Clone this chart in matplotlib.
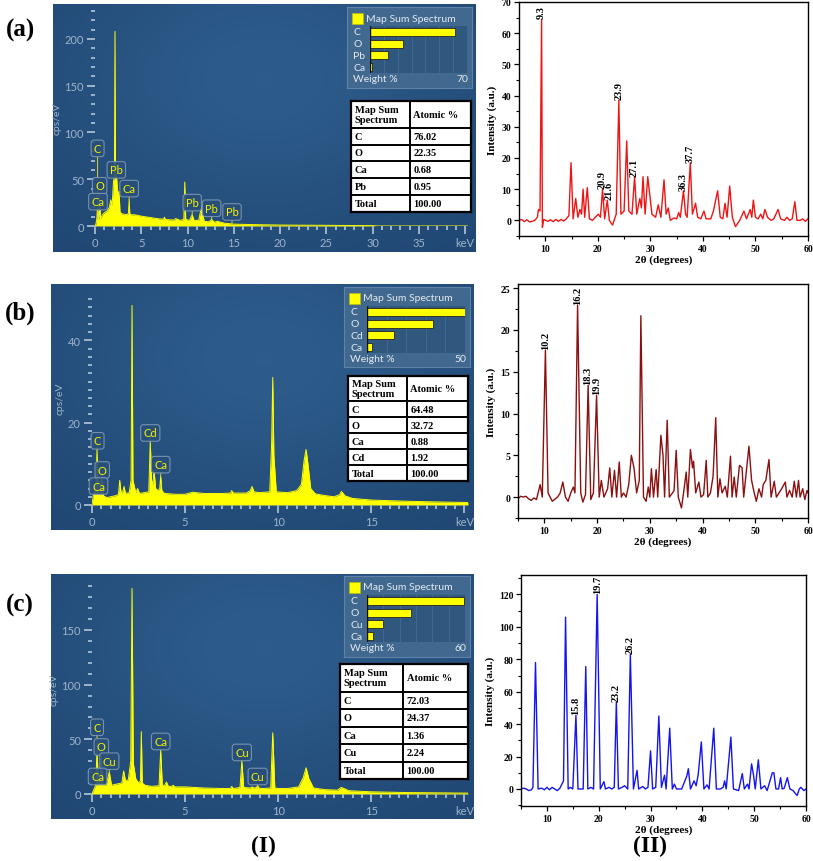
import numpy as np
import matplotlib
matplotlib.use("Agg")
import matplotlib.pyplot as plt
from matplotlib.patches import Rectangle
from matplotlib.colors import LinearSegmentedColormap

# ---- EDS spectra (keV, cps/eV) ----
eds_a = [(0, 0), (0.1, 2), (0.2, 8), (0.28, 22), (0.36, 6), (0.45, 10), (0.52, 25), (0.6, 8),
         (0.8, 12), (1.0, 14), (1.3, 16), (1.55, 20), (1.7, 28), (1.85, 22), (2.0, 48), (2.1, 52),
         (2.16, 208), (2.22, 55), (2.35, 50), (2.5, 30), (2.6, 37), (2.7, 15), (2.9, 13), (3.2, 12.5),
         (3.5, 12), (3.62, 14), (3.69, 28), (3.76, 13), (3.9, 12), (4.3, 12), (5.0, 10.5), (6.0, 9),
         (7.0, 7.5), (7.45, 7.5), (7.5, 9.5), (7.6, 7), (8.2, 6.5), (8.6, 6.5), (8.7, 8), (9.2, 6),
         (9.6, 7), (9.7, 47), (9.8, 7), (10.2, 6), (10.5, 12), (10.7, 6), (11.2, 6), (11.5, 20),
         (11.8, 5), (12.3, 4.5), (12.6, 7), (12.9, 4), (13.2, 5), (14.0, 3), (15.0, 2), (17.0, 1.5),
         (20.0, 1), (25.0, 0.7), (30.0, 0.4), (30.5, 0), (40.3, 0)]
eds_b = [(0, 0), (0.12, 4), (0.2, 3), (0.27, 13.5), (0.34, 3), (0.42, 2.5), (0.52, 7), (0.62, 2.2),
         (0.8, 1.8), (1.0, 2), (1.3, 2.3), (1.42, 2.6), (1.49, 6), (1.56, 3), (1.65, 3.2), (1.72, 4.5),
         (1.8, 2.8), (2.0, 3), (2.1, 6), (2.15, 48.5), (2.2, 6), (2.35, 3), (2.45, 4), (2.55, 2.8),
         (2.8, 3), (3.05, 3.2), (3.13, 15.5), (3.2, 6), (3.27, 5), (3.33, 8.5), (3.42, 4), (3.55, 3.5),
         (3.64, 4), (3.69, 7), (3.75, 3.5), (3.9, 2.8), (4.5, 2.6), (5.0, 2.6), (5.4, 3.1), (6.0, 2.8),
         (7.0, 2.8), (7.45, 2.9), (7.5, 3.5), (7.6, 2.9), (8.3, 2.9), (8.5, 3.5), (8.6, 4.5), (8.7, 3.2),
         (9.0, 3), (9.55, 3.2), (9.65, 15), (9.71, 31), (9.77, 12), (9.9, 3.2), (10.5, 3), (11.0, 3.5),
         (11.25, 5), (11.4, 11), (11.5, 13.5), (11.6, 10), (11.75, 4), (12.0, 2.7), (12.5, 2.3),
         (13.0, 2), (13.3, 2.5), (13.4, 3.3), (13.6, 2.2), (14.0, 1.6), (15.0, 1.2), (17.0, 0.9),
         (19.0, 0.7), (20.2, 0.6)]
eds_c = [(0, 0), (0.12, 5), (0.2, 8), (0.27, 41), (0.34, 10), (0.42, 12), (0.52, 32), (0.6, 9),
         (0.75, 8), (0.93, 20), (1.05, 8), (1.3, 9), (1.6, 10), (1.7, 21), (1.8, 12), (1.95, 13),
         (2.08, 30), (2.15, 188), (2.22, 28), (2.35, 14), (2.5, 10), (2.6, 12), (2.65, 57), (2.7, 10),
         (2.85, 8), (3.2, 7), (3.6, 7.5), (3.69, 40), (3.78, 7.5), (3.9, 8), (4.0, 11), (4.1, 7),
         (4.3, 7), (4.36, 8), (4.45, 6.5), (5.0, 6.5), (6.0, 5.5), (7.0, 5), (7.45, 5), (7.5, 7),
         (7.6, 5), (7.95, 6), (8.05, 30), (8.15, 6), (8.5, 5.5), (8.6, 6.5), (8.7, 5.5), (8.85, 6),
         (8.9, 8), (8.95, 5.5), (9.2, 5), (9.6, 5.5), (9.71, 56), (9.82, 5.5), (10.0, 5), (10.5, 5),
         (11.1, 6.5), (11.35, 15), (11.5, 24), (11.65, 14), (11.9, 5.5), (12.5, 4), (13.2, 3.5),
         (13.3, 5), (13.4, 6), (13.8, 3), (15.0, 2), (17.0, 1.3), (20.2, 0.8)]

# element markers: (label, keV of line, label y, pointer end y)
marks_a = [("C", 0.28, 83, 22), ("O", 0.5, 43, 25), ("Ca", 0.32, 26, 8), ("Pb", 2.3, 60, 50),
           ("Ca", 3.69, 40, 28), ("Pb", 10.5, 25, 12), ("Pb", 12.6, 19, 7), ("Pb", 14.8, 15, 3)]
marks_b = [("C", 0.3, 15.6, 13.5), ("O", 0.55, 8.5, 7), ("Ca", 0.35, 4.6, 3),
           ("Cd", 3.13, 17.5, 15.5), ("Ca", 3.69, 9.8, 7)]
marks_c = [("C", 0.27, 61, 41), ("O", 0.5, 43, 32), ("Cu", 0.93, 30, 20), ("Ca", 0.3, 16, 8),
           ("Ca", 3.69, 48, 40), ("Cu", 8.05, 38, 30), ("Cu", 8.9, 16, 8)]

# weight % bars and atomic % tables
elems_a = ["C", "O", "Pb", "Ca"]; wt_a = [61, 24, 13, 1.8]; wmax_a = 70
elems_b = ["C", "O", "Cd", "Ca"]; wt_b = [50, 33.8, 13.9, 2.3]; wmax_b = 50
elems_c = ["C", "O", "Cu", "Ca"]; wt_c = [59.6, 26.9, 9.8, 3.7]; wmax_c = 60
table_a = [("C", "76.02"), ("O", "22.35"), ("Ca", "0.68"), ("Pb", "0.95"), ("Total", "100.00")]
table_b = [("C", "64.48"), ("O", "32.72"), ("Ca", "0.88"), ("Cd", "1.92"), ("Total", "100.00")]
table_c = [("C", "72.03"), ("O", "24.37"), ("Ca", "1.36"), ("Cu", "2.24"), ("Total", "100.00")]

# ---- XRD patterns (2theta, intensity) ----
xrd_a = [(5, 0), (5.5, 0.3), (6, -0.4), (6.5, 0.2), (7, -0.5), (7.5, -0.3), (8, 0), (8.5, 1),
         (8.7, 3.5), (9.0, 3), (9.3, 64.5), (9.45, -2.2), (9.7, 0.3), (10.5, -0.3), (11, 0.2),
         (11.5, -0.4), (12, 0.3), (12.5, -0.3), (13, 0.3), (13.5, -0.2), (14, 0.5), (14.5, 1.5),
         (14.9, 18.5), (15.3, 0.5), (15.8, 7), (16.2, 1), (16.6, 3.5), (16.9, 2), (17.2, 10), (17.5, 1),
         (18.0, 10.5), (18.4, 0.5), (19.0, 0), (19.5, 1), (20.1, 2), (20.5, 1), (20.9, 10), (21.3, 0.5),
         (21.8, 6.5), (22.2, 0), (22.8, -1.5), (23.5, 2), (24.0, 38.5), (24.4, 2), (25.0, 3),
         (25.5, 25.5), (25.9, 3), (26.5, 2), (27.0, 14), (27.4, 2), (28.0, 7), (28.3, 4), (28.6, 14),
         (29.0, 2), (29.5, 14), (29.9, 8), (30.3, 2), (31.0, 1), (31.5, 5), (32.0, 1), (32.6, 13),
         (33.0, 2), (33.4, 4), (33.8, 0), (34.5, 0.8), (35.0, 0.5), (35.4, 2.5), (35.7, 1), (36.3, 9.5),
         (36.7, 2), (37.0, 1), (37.6, 18.5), (38.0, 2), (38.6, 5.5), (39.0, 1), (39.6, 0.5), (40.2, 3),
         (40.6, 0.5), (41.5, 0.5), (42.0, 3), (42.8, 9.5), (43.3, 1), (43.8, 0.5), (44.2, 5.5),
         (44.6, 1), (45.1, 11), (45.6, 1), (46.2, -2), (47.0, 0), (47.8, 3), (48.3, 0.5), (49.0, 3.5),
         (49.3, 1), (49.6, 6.5), (50.0, 1), (50.5, 0.5), (51.0, 2), (51.4, 0.5), (51.8, 3.5),
         (52.3, 1), (53.0, 0), (53.5, 0.5), (54.3, 3.5), (54.8, 0.5), (55.5, 0), (56, 1), (56.5, 0),
         (57.0, 0.5), (57.5, 6), (57.9, 0), (58.5, 0), (59, 0.5), (59.5, -0.3), (60, 0.5)]
xrd_b = [(5, -0.2), (5.5, 0.1), (6, 0), (6.5, 0.1), (7, -0.2), (7.5, -0.4), (8, -0.1), (8.5, -0.3),
         (9.2, 1.5), (9.6, 0), (10.2, 17.6), (10.7, 0.5), (11.5, -0.5), (12.5, 0), (13.0, 0.5),
         (13.5, 1.8), (14.0, 0), (14.5, -0.5), (15.0, 0.5), (15.5, 1.2), (15.8, 0.5), (16.3, 23),
         (16.9, 0.5), (17.3, -0.6), (17.8, 0.3), (18.3, 13.4), (18.8, -0.3), (19.3, 0.5), (19.9, 12.2),
         (20.4, 0), (20.8, 2), (21.3, 0), (22.0, 1), (22.4, 3.5), (22.8, 0), (23.3, 3.2), (23.7, 0),
         (24.2, 4.2), (24.6, 0), (25.0, 0.5), (25.5, 0), (26.0, 1.5), (26.5, 5), (27.0, 3.5),
         (27.5, 0.5), (28.0, 2), (28.3, 21.7), (28.8, 0), (29.3, -0.5), (29.7, 1.2), (30.0, 0),
         (30.3, 3.4), (30.7, 0), (31.2, 3.3), (31.5, 0), (32.1, 7.4), (32.5, 5), (32.8, 0), (33.3, 9.2),
         (33.7, 0), (34.3, 0.5), (34.6, 0.8), (35.0, 5.6), (35.4, 0), (36.0, -1.3), (36.4, 0.5),
         (36.9, 3), (37.2, 0), (37.7, 5.7), (38.1, 3.5), (38.3, 4.3), (38.7, 0.5), (39.3, 1.8),
         (39.7, 0), (40.2, 0.3), (40.7, 4.4), (41.0, 0), (41.5, 0.5), (42.0, 2.5), (42.5, 9.5),
         (42.9, 0), (43.3, 2.2), (43.7, 0.5), (44.3, 1.3), (44.7, 0), (45.3, 4.9), (45.6, 0),
         (46.0, 2.4), (46.4, 0), (47.0, 3.8), (47.5, 3.5), (47.8, 0), (48.8, 6.1), (49.3, 2),
         (49.8, 0.5), (50.2, -0.5), (50.7, 1), (51.2, 0), (51.5, 1.5), (52.0, 2), (52.6, 4.5),
         (53.0, 0), (53.6, 1.9), (54.0, 0), (55.0, 1), (55.7, 1.8), (56.0, 0), (56.5, 0.8), (57.0, 0),
         (57.4, 1.9), (57.8, 0), (58.2, 2), (58.5, 0), (59.0, 1), (59.4, -0.3), (59.8, 0.8), (60, 0.5)]
xrd_c = [(5, 0), (5.5, 0.5), (6, 0), (6.5, -1), (7, -0.5), (7.3, 1), (7.8, 78), (8.3, 0), (9, 0.5),
         (9.5, -0.5), (10, 1), (10.5, -0.5), (11, 1), (11.5, 0), (12, -1), (12.5, 0.5), (13.2, 5),
         (13.6, 106), (14.1, 0), (14.5, 1), (15.0, 0), (15.6, 45.5), (16.0, 0), (17.0, 0), (17.5, 75.5),
         (17.9, 0), (18.5, 1), (19.0, 0), (19.7, 120), (20.3, 0), (21.0, 4.5), (21.3, 0), (22.0, 1),
         (22.5, 0), (23.0, 1), (23.4, 53.5), (23.8, 0), (24.5, 1), (25.0, 2), (25.6, 0), (26.1, 83),
         (26.7, 0), (27.4, 11.5), (27.7, 0), (28.5, 1.5), (29.0, 0), (29.5, 1), (30.0, 23.5), (30.4, 0),
         (31.0, 1), (31.6, 45), (32.1, 1), (32.7, 8.5), (33.0, 0), (33.7, 37.5), (34.2, 0), (34.6, 3),
         (35.0, 0), (36.0, 0), (37.0, 8), (37.3, 12.5), (37.7, 0), (38.4, 5), (38.8, 2), (39.2, 9),
         (39.8, 29), (40.3, 0), (40.9, 2.5), (41.3, 0), (42.2, 37.5), (42.7, 0), (43.5, 0), (44.0, 1),
         (44.3, 5), (44.6, 0), (45.5, 32), (46.0, 0), (47.0, -1), (47.7, 9.5), (48.1, 0), (48.7, 3),
         (49.0, 0), (49.5, 15.5), (49.9, 8), (50.2, 0), (50.8, 18), (51.3, 0), (52.0, 2), (52.5, -1),
         (53.5, 10), (53.8, 10), (54.2, 0), (54.7, 0), (55.1, 7), (55.4, 0), (55.8, 0.5), (56.4, 7),
         (56.9, 0), (57.5, -1), (58.0, -3), (58.3, -4), (58.7, 0), (59.0, 1), (59.6, -1), (60, 0)]
# peak labels: (text, label position in 2theta)
peaks_a = [("9.3", 9.3), ("20.9", 20.75), ("21.6", 22.1), ("23.9", 24.0), ("27.1", 27.0),
           ("36.3", 36.3), ("37.7", 37.6)]
peaks_b = [("10.2", 10.2), ("16.2", 16.3), ("18.3", 18.3), ("19.9", 19.9)]
peaks_c = [("15.8", 15.6), ("19.7", 19.7), ("23.2", 23.4), ("26.2", 26.1)]

W, H = 813, 862
fig = plt.figure(figsize=(W / 100, H / 100), dpi=100)
SERIF = "Liberation Serif"
SANS = "Lato"
TICKC = "#9fb4cb"
TXTC = "#e4eaf1"


def box(l, t, r, b):
    return [l / W, 1 - b / H, (r - l) / W, (b - t) / H]


def ftext(x, y, s, **kw):
    fig.text(x / W, 1 - y / H, s, **kw)


# background gradient for the EDS screenshots
cmap_bg = LinearSegmentedColormap.from_list("bg", ["#214875", "#2d5c8b"])
gx, gy = np.meshgrid(np.linspace(0, 1, 200), np.linspace(0, 1, 120))
grad = np.exp(-((gx - 0.5) ** 2 / 0.25 + (gy - 0.3) ** 2 / 0.35))


def eds_panel(panel, inner, data, xlim, ylim, xmaj, xminor, ymaj, yminor, xlabels, marks,
              lg, elems, wt, wmax, tbox, rows, split):
    bg = fig.add_axes(box(*panel))
    bg.imshow(grad, cmap=cmap_bg, aspect="auto", extent=[0, 1, 0, 1], origin="upper")
    bg.axis("off")

    ax = fig.add_axes(box(*inner))
    ax.set_facecolor("none")
    kev, cps = zip(*data)
    ax.fill_between(kev, cps, 0, color="#ffff00", lw=0)
    ax.plot(kev, cps, color="#ffff00", lw=0.7)
    ax.set_xlim(*xlim)
    ax.set_ylim(*ylim)
    for s in ax.spines.values():
        s.set_visible(False)
    ax.set_xticks(xmaj)
    ax.set_xticklabels(xlabels)
    ax.set_xticks(xminor, minor=True)
    ax.set_yticks(ymaj)
    ax.set_yticks(yminor, minor=True)
    ax.tick_params(which="major", colors=TICKC, length=6, width=1.4, labelsize=8, pad=2)
    ax.tick_params(which="minor", colors=TICKC, length=3, width=1.4)
    for t in ax.get_xticklabels() + ax.get_yticklabels():
        t.set_family(SANS)
        t.set_color(TICKC)
    ax.set_ylabel("cps/eV", color=TICKC, fontsize=7.5, family=SANS, labelpad=2)
    for el, kx, ly, py in marks:
        ax.annotate(el, xy=(kx, py), xytext=(kx, ly), ha="center", va="center",
                    color="#f2f200", fontsize=8, family=SANS,
                    bbox=dict(boxstyle="round,pad=0.25", fc="#294f7a", ec="#7f98b4", lw=0.8, alpha=0.9),
                    arrowprops=dict(arrowstyle="-", color="#d8d820", lw=0.7, shrinkA=0, shrinkB=0))

    # weight % legend box
    l, t, r, b = lg
    la = fig.add_axes(box(l, t, r, b))
    la.set_facecolor("#41698f")
    la.set_xticks([]); la.set_yticks([])
    for s in la.spines.values():
        s.set_color("#5f82a6")
    fig.patches.append(Rectangle(((l + 5) / W, 1 - (t + 17) / H), 11 / W, 11 / H,
                                 transform=fig.transFigure, fc="#ffff00", ec="#bbbb00", lw=0.5))
    ftext(l + 19, t + 11, "Map Sum Spectrum", color=TXTC, fontsize=7.5, family=SANS, va="center")
    bx = fig.add_axes(box(l + 23, t + 19, r - 5, t + 66))
    bx.set_facecolor("#30587f")
    bx.barh(range(len(elems)), wt, height=0.7, color="#ffff00", edgecolor="#222222", lw=0.6)
    bx.set_xlim(0, wmax)
    bx.set_ylim(len(elems) - 0.5, -0.5)
    for gxv in range(10, wmax, 10):
        bx.axvline(gxv, color="#3f6790", lw=0.8, zorder=0)
    bx.set_xticks([]); bx.set_yticks([])
    for s in bx.spines.values():
        s.set_visible(False)
    bx.axvline(0, color="#111111", lw=1)
    for i, el in enumerate(elems):
        ftext(l + 6, t + 24.5 + 12 * i, el, color=TXTC, fontsize=7.5, family=SANS, va="center")
    ftext(l + 6, t + 72, "Weight %", color=TXTC, fontsize=7.5, family=SANS, va="center")
    ftext(r - 4, t + 72, str(wmax), color=TXTC, fontsize=7.5, family=SANS, va="center", ha="right")

    # atomic % table
    tx = fig.add_axes(box(*tbox))
    tx.set_facecolor("white")
    tx.set_xlim(0, 1)
    tx.set_ylim(1, 0)
    tx.set_xticks([]); tx.set_yticks([])
    for s in tx.spines.values():
        s.set_linewidth(1.6)
    hfrac = 0.24
    rh = (1 - hfrac) / len(rows)
    tx.axvline(split, color="black", lw=1.4)
    tx.axhline(hfrac, color="black", lw=1.4)
    for i in range(1, len(rows)):
        tx.axhline(hfrac + rh * i, color="black", lw=1.4)
    fs = dict(fontsize=7.5, fontweight="bold", family=SERIF, va="center")
    tx.text(0.03, hfrac / 2, "Map Sum\nSpectrum", linespacing=1.1, **fs)
    tx.text(split + 0.03, hfrac / 2, "Atomic %", **fs)
    for i, (name, val) in enumerate(rows):
        yc = hfrac + rh * (i + 0.5)
        tx.text(0.03, yc, name, **fs)
        tx.text(split + 0.03, yc, val, **fs)


def xrd_panel(rect, data, color, ylim, yticks, yminor, peaks):
    ax = fig.add_axes(box(*rect))
    tt, it = zip(*data)
    ax.plot(tt, it, color=color, lw=1)
    ax.set_xlim(5, 60)
    ax.set_ylim(*ylim)
    ax.set_xticks([10, 20, 30, 40, 50, 60])
    ax.set_xticks(range(5, 61, 5), minor=True)
    ax.set_yticks(yticks)
    ax.set_yticks(yminor, minor=True)
    ax.tick_params(which="major", direction="out", length=3.5, width=0.9, labelsize=7, pad=2)
    ax.tick_params(which="minor", direction="out", length=2, width=0.8)
    for t in ax.get_xticklabels() + ax.get_yticklabels():
        t.set_family(SERIF)
        t.set_fontweight("bold")
    for s in ax.spines.values():
        s.set_linewidth(1.0)
    ax.set_ylabel("Intensity (a.u.)", fontsize=8, fontweight="bold", family=SERIF, labelpad=3)
    ax.set_xlabel("2θ (degrees)", fontsize=8, fontweight="bold", family=SERIF, labelpad=1)
    arr_t = np.array(tt)
    arr_i = np.array(it)
    for lab, xp in peaks:
        near = np.abs(arr_t - xp) <= 0.35
        top = arr_i[near].max()
        ax.text(xp, top + (ylim[1] - ylim[0]) * 0.005, lab, rotation=90, ha="center", va="bottom",
                fontsize=7.5, fontweight="bold", family=SERIF)


eds_panel((53, 5, 475, 253), (95, 10, 468, 227), eds_a, (0, 40.3), (0, 232),
          [0, 5, 10, 15, 20, 25, 30, 35, 40], np.arange(0, 40.5, 1), [0, 50, 100, 150, 200],
          np.arange(0, 231, 10), ["0", "5", "10", "15", "20", "25", "30", "35", "keV"], marks_a,
          (347, 8, 472, 89), elems_a, wt_a, wmax_a, (351, 102, 471, 213), table_a, 0.49)
eds_panel((51, 285, 473, 531), (92, 292, 468, 506), eds_b, (0, 20.2), (0, 52),
          [0, 5, 10, 15, 20], np.arange(0, 20.3, 0.5), [0, 20, 40], np.arange(0, 51, 2),
          ["0", "5", "10", "15", "keV"], marks_b,
          (344, 288, 470, 368), elems_b, wt_b, wmax_b, (348, 377, 468, 482), table_b, 0.49)
eds_panel((51, 575, 473, 820), (92, 585, 468, 795), eds_c, (0, 20.2), (0, 192),
          [0, 5, 10, 15, 20], np.arange(0, 20.3, 0.5), [0, 50, 100, 150], np.arange(0, 191, 10),
          ["0", "5", "10", "15", "keV"], marks_c,
          (344, 577, 470, 658), elems_c, wt_c, wmax_c, (340, 665, 468, 780), table_c, 0.49)

xrd_panel((519, 3, 808, 237), xrd_a, "#f01414", (-5, 70), range(0, 71, 10), range(-5, 71, 5), peaks_a)
xrd_panel((518, 285, 808, 519), xrd_b, "#8b1010", (-2.5, 25.5), range(0, 26, 5),
          np.arange(-2.5, 25.6, 2.5), peaks_b)
xrd_panel((521, 576, 806, 807), xrd_c, "#1414f0", (-10.5, 132), range(0, 121, 20),
          range(-10, 131, 10), peaks_c)

for lab, y in [("(a)", 30), ("(b)", 313), ("(c)", 605)]:
    ftext(20, y, lab, fontsize=18, fontweight="bold", family=SERIF, ha="center", va="center")
ftext(263, 846, "(I)", fontsize=17, fontweight="bold", family=SERIF, ha="center", va="center")
ftext(650, 846, "(II)", fontsize=17, fontweight="bold", family=SERIF, ha="center", va="center")

fig.savefig("out.png", dpi=100)
